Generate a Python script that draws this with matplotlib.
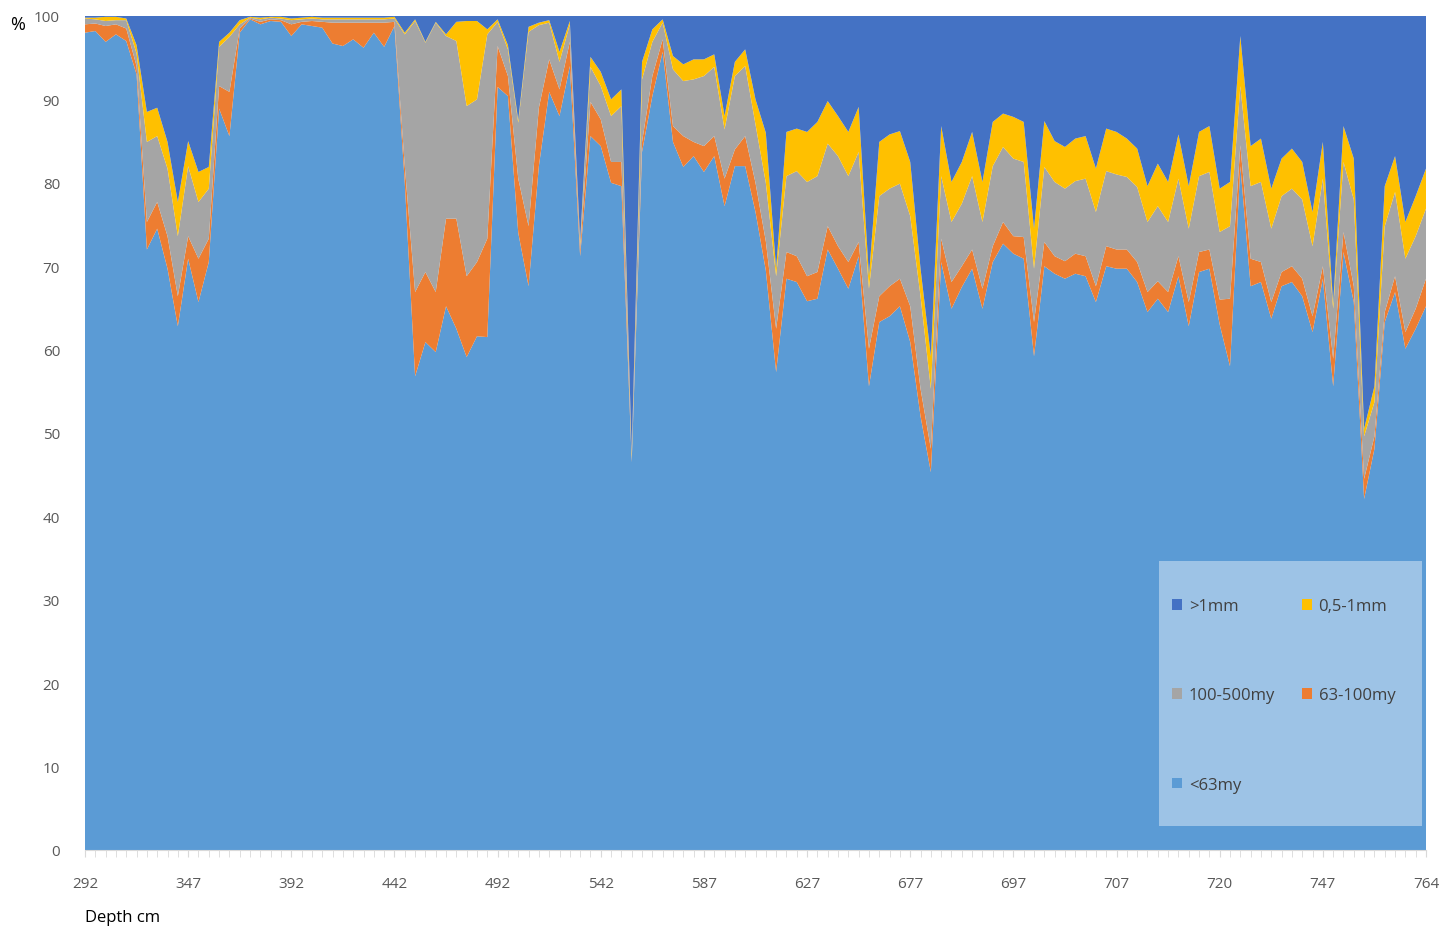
import numpy as np
import matplotlib
matplotlib.use("Agg")
import matplotlib.pyplot as plt
from matplotlib.patches import Patch, Rectangle

# grain size fractions in %, one value per sample (131 samples)
lt63 = [98, 98.2, 96.9, 97.8, 97, 93, 72, 74.5, 69.7, 62.8,
        70.9, 65.7, 70.5, 88.9, 85.6, 98, 99.6, 99, 99.4, 99.3,
        97.6, 99, 98.8, 98.6, 96.7, 96.4, 97.2, 96.2, 98, 96.3,
        98.8, 80, 56.8, 60.9, 59.7, 65.2, 62.5, 59.1, 61.6, 61.5,
        91.5, 90.4, 74, 67.6, 82, 90.9, 88, 94, 71.2, 85.6,
        84.4, 80, 79.6, 46.5, 83.7, 90.4, 95.7, 84.9, 81.9, 83.2,
        81.3, 83.2, 77.2, 82, 82, 76.5, 69.5, 57.3, 68.5, 68.1,
        65.8, 66.1, 72, 69.7, 67.3, 71.2, 55.6, 63.3, 64, 65.2,
        60.9, 52, 45.3, 70.5, 64.9, 67.5, 69.7, 64.9, 70.5, 72.7,
        71.5, 70.9, 59.2, 70, 69.1, 68.5, 69.1, 68.8, 65.7, 70,
        69.7, 69.7, 68.1, 64.5, 66.1, 64.5, 68.8, 62.8, 69.3, 69.7,
        63, 58, 82, 67.6, 68.1, 63.7, 67.6, 68.1, 66.4, 62.1,
        68.5, 55.6, 71.7, 65.7, 42.1, 48.1, 63.3, 66.9, 60.1, 62.5,
        65.2]
my63_100 = [1.0, 0.9, 1.9, 1.2, 1.5, 1.0, 3.3, 3.2, 3.9, 3.6,
            2.7, 5.2, 2.8, 2.7, 5.3, 0.5, 0.1, 0.3, 0.2, 0.2,
            1.4, 0.3, 0.6, 0.7, 2.5, 2.8, 2.0, 3.0, 1.2, 2.9,
            0.5, 2.0, 10.1, 8.4, 7.2, 10.5, 13.2, 9.7, 8.9, 11.8,
            4.9, 2.4, 6.5, 7.2, 7.0, 3.9, 3.2, 2.9, 0.8, 4.1,
            3.2, 2.5, 2.9, 0.2, 1.2, 2.4, 1.5, 1.9, 3.7, 1.7,
            3.1, 2.4, 3.3, 2.0, 3.6, 3.5, 3.5, 5.2, 3.2, 3.1,
            3.0, 3.2, 2.8, 2.7, 3.2, 1.7, 4.5, 3.1, 3.6, 3.3,
            4.3, 3.3, 2.8, 2.8, 3.2, 2.5, 2.3, 2.4, 1.9, 2.6,
            2.1, 2.6, 4.1, 2.9, 2.1, 2.1, 2.4, 2.4, 1.9, 2.4,
            2.3, 2.3, 2.4, 2.4, 2.1, 2.4, 2.4, 2.9, 2.4, 2.3,
            3.0, 8.1, 2.5, 3.3, 2.4, 2.0, 1.7, 1.9, 2.1, 1.9,
            1.5, 3.3, 2.4, 1.9, 2.4, 1.5, 1.2, 1.9, 2.0, 2.4,
            3.3]
my100_500 = [0.7, 0.5, 0.6, 0.5, 1.0, 1.5, 9.6, 7.9, 8.1, 7.2,
             8.4, 6.8, 6.0, 4.7, 6.6, 0.5, 0.1, 0.3, 0.2, 0.2,
             0.5, 0.3, 0.3, 0.3, 0.4, 0.4, 0.4, 0.4, 0.4, 0.4,
             0.4, 15.8, 32.5, 27.5, 32.3, 21.9, 21.3, 20.4, 19.5, 24.5,
             2.9, 3.2, 6.7, 23.3, 9.9, 4.4, 3.3, 2.1, 0.6, 4.2,
             4.0, 5.5, 6.7, 0.3, 7.5, 4.1, 2.0, 6.8, 6.6, 7.5,
             8.4, 8.3, 5.9, 8.8, 8.4, 7.0, 7.0, 6.3, 9.1, 10.2,
             11.3, 11.5, 9.9, 10.8, 10.3, 10.8, 7.2, 12.0, 11.7, 11.4,
             10.8, 11.1, 7.2, 7.5, 7.2, 7.5, 8.8, 8.0, 9.6, 9.0,
             9.3, 9.0, 6.4, 9.0, 8.9, 8.7, 8.7, 9.3, 8.9, 9.0,
             9.0, 8.7, 9.0, 8.4, 9.0, 8.4, 9.3, 8.8, 9.1, 9.3,
             8.1, 8.7, 7.1, 8.7, 9.6, 8.8, 9.1, 9.3, 9.5, 8.4,
             10.5, 6.0, 8.4, 10.4, 5.1, 4.1, 10.3, 10.1, 8.8, 8.7,
             8.4]
mm05_1 = [0.1, 0.2, 0.5, 0.4, 0.2, 1.0, 3.6, 3.4, 3.2, 4.1,
          3.0, 3.6, 2.6, 0.6, 0.5, 0.5, 0.1, 0.2, 0.1, 0.2,
          0.2, 0.2, 0.2, 0.2, 0.2, 0.2, 0.2, 0.2, 0.2, 0.2,
          0.2, 0.2, 0.2, 0.1, 0.1, 0.2, 2.3, 10.2, 9.4, 0.6,
          0.3, 0.5, 0.3, 0.6, 0.3, 0.3, 1.2, 0.4, 0.4, 1.2,
          1.7, 2.0, 2.0, 0.5, 2.1, 1.5, 0.4, 1.6, 2.0, 2.4,
          2.0, 1.5, 1.6, 1.7, 2.0, 3.0, 6.0, 0.9, 5.3, 5.1,
          6.0, 6.5, 5.1, 4.8, 5.3, 5.4, 1.5, 6.5, 6.5, 6.3,
          6.5, 3.3, 3.9, 6.0, 4.8, 5.0, 5.3, 4.8, 5.3, 4.0,
          5.0, 4.8, 4.8, 5.5, 4.9, 5.0, 5.1, 5.1, 5.2, 5.1,
          5.1, 4.6, 4.6, 4.3, 5.1, 4.8, 5.3, 5.1, 5.3, 5.5,
          5.2, 5.3, 6.0, 4.8, 5.2, 4.8, 4.5, 4.8, 4.5, 4.1,
          4.4, 0.6, 4.3, 4.9, 0.9, 1.9, 4.8, 4.3, 4.4, 4.8,
          4.8]
gt1mm = [0.2, 0.2, 0.1, 0.1, 0.3, 3.5, 11.5, 11.0, 15.1, 22.3,
         15.0, 18.7, 18.1, 3.1, 2.0, 0.5, 0.1, 0.2, 0.1, 0.1,
         0.3, 0.2, 0.1, 0.2, 0.2, 0.2, 0.2, 0.2, 0.2, 0.2,
         0.1, 2.0, 0.4, 3.1, 0.7, 2.2, 0.7, 0.6, 0.6, 1.6,
         0.4, 3.5, 12.5, 1.3, 0.8, 0.5, 4.3, 0.6, 27.0, 4.9,
         6.7, 10.0, 8.8, 52.5, 5.5, 1.6, 0.4, 4.8, 5.8, 5.2,
         5.2, 4.6, 12.0, 5.5, 4.0, 10.0, 14.0, 30.3, 13.9, 13.5,
         13.9, 12.7, 10.2, 12.0, 13.9, 10.9, 31.2, 15.1, 14.2, 13.8,
         17.5, 30.3, 40.8, 13.2, 19.9, 17.5, 13.9, 19.9, 12.7, 11.7,
         12.1, 12.7, 25.5, 12.6, 15.0, 15.7, 14.7, 14.4, 18.3, 13.5,
         13.9, 14.7, 15.9, 20.4, 17.7, 19.9, 14.2, 20.4, 13.9, 13.2,
         20.7, 19.9, 2.4, 15.6, 14.7, 20.7, 17.1, 15.9, 17.5, 23.5,
         15.1, 34.5, 13.2, 17.1, 49.5, 44.4, 20.4, 16.8, 24.7, 21.6,
         18.3]

depth_labels = ["292", "347", "392", "442", "492", "542", "587", "627",
                "677", "697", "707", "720", "747", "764"]
series_names = ["<63my", "63-100my", "100-500my", "0,5-1mm", ">1mm"]
colors = ["#5B9BD5", "#ED7D31", "#A5A5A5", "#FFC000", "#4472C4"]

plt.rcParams['font.family'] = ['Open Sans', 'DejaVu Sans']

fig = plt.figure(figsize=(14.56, 9.29), dpi=100)
ax = fig.add_axes([85/1456, 1-851/929, 1341/1456, 834/929])

x = np.arange(len(lt63))
ax.stackplot(x, lt63, my63_100, my100_500, mm05_1, gt1mm,
             colors=colors, edgecolor="none", linewidth=0)

ax.set_xlim(0, len(lt63) - 1)
ax.set_ylim(0, 100)
ax.set_yticks(range(0, 101, 10))
ax.tick_params(axis="y", length=0, pad=18, labelsize=11, labelcolor="#595959")
ax.set_xticks(np.arange(0, len(lt63), 10))
ax.set_xticklabels(depth_labels)
ax.set_xticks(x, minor=True)
ax.tick_params(axis="x", which="both", length=5, color="#D9D9D9",
               pad=14, labelsize=11, labelcolor="#595959")
for s in ["top", "right", "left"]:
    ax.spines[s].set_visible(False)
ax.spines["bottom"].set_color("#D9D9D9")

fig.text(18/1456, 1-25/929, "%", fontsize=13, ha="center", va="center")
fig.text(85/1456, 1-918/929, "Depth cm", fontsize=12, ha="left", va="center")

# legend box
ax.add_patch(Rectangle((0.8009, 0.0288), 0.1961, 0.3177, transform=ax.transAxes,
                       facecolor="#9DC3E6", edgecolor="none", zorder=3))
h = {n: Patch(facecolor=c) for n, c in zip(series_names, colors)}
order = [">1mm", "100-500my", "<63my", "0,5-1mm", "63-100my"]
leg = ax.legend([h[n] for n in order], order, ncol=2, frameon=False,
                loc="upper left", bbox_to_anchor=(0.8045, 0.312),
                fontsize=12, handlelength=0.6, handleheight=0.6,
                handletextpad=0.4, labelspacing=4.4, columnspacing=1.6,
                borderpad=0)
for t in leg.get_texts():
    t.set_color("#404040")
leg.set_zorder(4)

fig.savefig("out.png", dpi=100)
